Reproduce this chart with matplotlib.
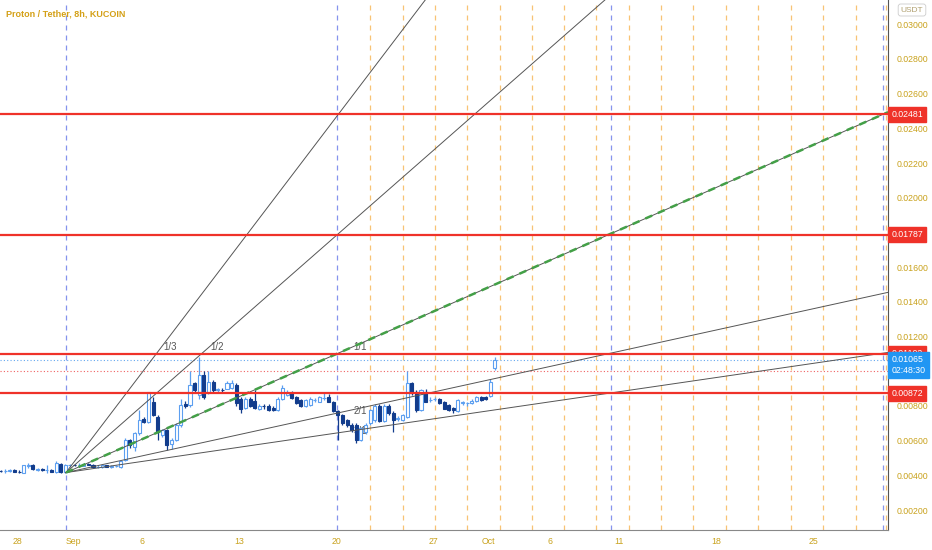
import numpy as np
import matplotlib.pyplot as plt

# 8h candles of PRT/USDT (KuCoin), oldest first
opens = [0.00425, 0.00424, 0.00426, 0.00430, 0.00420, 0.00414, 0.00456, 0.00462, 0.00432, 0.00436,
         0.00428, 0.00432, 0.00420, 0.00466, 0.00418, 0.00458, 0.00460, 0.00458, 0.00455, 0.00466,
         0.00462, 0.00448, 0.00448, 0.00458, 0.00450, 0.00452, 0.00448, 0.00489, 0.00604, 0.00564,
         0.00644, 0.00725, 0.00708, 0.00823, 0.00737, 0.00635, 0.00661, 0.00580, 0.00604, 0.00690,
         0.00810, 0.00806, 0.00932, 0.00863, 0.00978, 0.00875, 0.00940, 0.00892, 0.00893, 0.00898,
         0.00905, 0.00921, 0.00840, 0.00790, 0.00840, 0.00830, 0.00785, 0.00800, 0.00800, 0.00790,
         0.00777, 0.00840, 0.00865, 0.00875, 0.00852, 0.00834, 0.00800, 0.00806, 0.00834, 0.00825,
         0.00845, 0.00852, 0.00825, 0.00770, 0.00748, 0.00719, 0.00690, 0.00690, 0.00604, 0.00650,
         0.00702, 0.00719, 0.00800, 0.00713, 0.00800, 0.00760, 0.00725, 0.00719, 0.00737, 0.00930,
         0.00880, 0.00777, 0.00880, 0.00834, 0.00838, 0.00840, 0.00825, 0.00806, 0.00788, 0.00770,
         0.00817, 0.00815, 0.00817, 0.00830, 0.00852, 0.00850, 0.00856, 0.01017]
highs = [0.00432, 0.00434, 0.00436, 0.00436, 0.00428, 0.00462, 0.00474, 0.00468, 0.00440, 0.00440,
         0.00460, 0.00436, 0.00480, 0.00472, 0.00468, 0.00468, 0.00464, 0.00470, 0.00470, 0.00470,
         0.00466, 0.00458, 0.00462, 0.00462, 0.00460, 0.00462, 0.00485, 0.00615, 0.00610, 0.00650,
         0.00777, 0.00735, 0.00883, 0.00850, 0.00745, 0.00670, 0.00665, 0.00615, 0.00700, 0.00840,
         0.00830, 0.01000, 0.00940, 0.01084, 0.01000, 0.01000, 0.00950, 0.00905, 0.00905, 0.00945,
         0.00950, 0.00935, 0.00850, 0.00850, 0.00850, 0.00890, 0.00810, 0.00810, 0.00810, 0.00800,
         0.00850, 0.00921, 0.00890, 0.00885, 0.00860, 0.00840, 0.00840, 0.00850, 0.00845, 0.00860,
         0.00880, 0.00870, 0.00830, 0.00775, 0.00755, 0.00725, 0.00700, 0.00700, 0.00680, 0.00700,
         0.00785, 0.00810, 0.00810, 0.00810, 0.00810, 0.00770, 0.00740, 0.00755, 0.01000, 0.00940,
         0.00890, 0.00900, 0.00895, 0.00850, 0.00850, 0.00845, 0.00830, 0.00812, 0.00795, 0.00840,
         0.00830, 0.00825, 0.00840, 0.00860, 0.00860, 0.00858, 0.00955, 0.01080]
lows = [0.00418, 0.00416, 0.00418, 0.00418, 0.00414, 0.00412, 0.00444, 0.00432, 0.00426, 0.00426,
        0.00412, 0.00418, 0.00414, 0.00412, 0.00414, 0.00450, 0.00455, 0.00450, 0.00452, 0.00460,
        0.00444, 0.00440, 0.00444, 0.00446, 0.00444, 0.00446, 0.00444, 0.00480, 0.00560, 0.00540,
        0.00635, 0.00700, 0.00700, 0.00740, 0.00604, 0.00620, 0.00546, 0.00550, 0.00600, 0.00680,
        0.00790, 0.00795, 0.00880, 0.00840, 0.00840, 0.00870, 0.00880, 0.00880, 0.00880, 0.00895,
        0.00900, 0.00800, 0.00760, 0.00785, 0.00795, 0.00780, 0.00778, 0.00785, 0.00770, 0.00770,
        0.00772, 0.00835, 0.00860, 0.00840, 0.00810, 0.00795, 0.00795, 0.00800, 0.00825, 0.00820,
        0.00835, 0.00820, 0.00765, 0.00604, 0.00690, 0.00680, 0.00650, 0.00587, 0.00600, 0.00640,
        0.00690, 0.00710, 0.00705, 0.00705, 0.00750, 0.00650, 0.00715, 0.00715, 0.00730, 0.00865,
        0.00765, 0.00770, 0.00820, 0.00825, 0.00830, 0.00812, 0.00780, 0.00770, 0.00760, 0.00765,
        0.00805, 0.00800, 0.00810, 0.00825, 0.00830, 0.00832, 0.00850, 0.01010]
closes = [0.00424, 0.00426, 0.00428, 0.00420, 0.00418, 0.00458, 0.00460, 0.00434, 0.00436, 0.00428,
          0.00430, 0.00420, 0.00470, 0.00420, 0.00460, 0.00460, 0.00458, 0.00462, 0.00466, 0.00462,
          0.00448, 0.00450, 0.00458, 0.00450, 0.00452, 0.00454, 0.00480, 0.00604, 0.00575, 0.00644,
          0.00719, 0.00710, 0.00880, 0.00748, 0.00650, 0.00660, 0.00575, 0.00604, 0.00690, 0.00806,
          0.00800, 0.00921, 0.00892, 0.00978, 0.00852, 0.00940, 0.00892, 0.00895, 0.00890, 0.00930,
          0.00935, 0.00817, 0.00785, 0.00840, 0.00800, 0.00790, 0.00800, 0.00798, 0.00778, 0.00777,
          0.00840, 0.00905, 0.00875, 0.00845, 0.00815, 0.00800, 0.00834, 0.00840, 0.00836, 0.00852,
          0.00848, 0.00825, 0.00770, 0.00748, 0.00702, 0.00690, 0.00661, 0.00604, 0.00673, 0.00690,
          0.00777, 0.00800, 0.00713, 0.00800, 0.00760, 0.00719, 0.00730, 0.00748, 0.00930, 0.00875,
          0.00777, 0.00892, 0.00825, 0.00836, 0.00840, 0.00817, 0.00785, 0.00777, 0.00777, 0.00834,
          0.00820, 0.00818, 0.00830, 0.00852, 0.00835, 0.00838, 0.00940, 0.01065]
last_bar_day = 34.44   # days after Aug 28, 00:00

# gann fan: origin and the 1/1 anchor
fan_origin = (3.49, 0.00416)
fan_anchor = (62.44, 0.02481)
fan_names = ['1/3', '1/2', '1/1', '2/1', '3/1']
fan_mult = [3, 2, 1, 0.5, 1 / 3]
fan_label_x = [11.0, 14.4, 24.7, 24.7, 24.7]
fan_label_y = [0.01140, 0.01140, 0.01140, 0.00771, 0.00656]

levels = [0.02481, 0.01787, 0.01102, 0.00872]
last_price = 0.01065
prev_close = 0.0100
countdown = '02:48:30'

cycle_days = [3.49, 23.04, 42.79, 62.44]
sub_days = [25.43, 27.79, 30.09, 32.45, 34.78, 37.09, 39.44, 41.75, 44.11,
            46.44, 48.75, 51.09, 53.44, 55.78, 58.11, 60.47, 62.63]

xtick_pos = [0, 4, 9, 16, 23, 30, 34, 38.4, 43.4, 50.4, 57.4]
xtick_lab = ['28', 'Sep', '6', '13', '20', '27', 'Oct', '6', '11', '18', '25']
# 0.018 and 0.010 are hidden behind the price labels
ytick_pos = [0.002, 0.004, 0.006, 0.008, 0.012, 0.014, 0.016,
             0.020, 0.022, 0.024, 0.026, 0.028, 0.030]

gold = '#c9a21d'
red = '#ef3229'
up_col = '#5c9ff0'
dn_col = '#123c8c'
fam = ['Liberation Sans', 'DejaVu Sans']

fig = plt.figure(figsize=(9.32, 5.5), dpi=100)
ax = fig.add_axes([0, 20 / 550, 888 / 932, 530 / 550])
ax.set_xlim(-1.27, 62.8)
ax.set_ylim(0.00085, 0.0314)

# time cycle lines
for d in sub_days:
    ax.axvline(d, color='#f7b551', lw=0.9, ls=(0, (4, 4)), alpha=0.8, zorder=1)
for d in cycle_days:
    ax.axvline(d, color='#7080ea', lw=0.9, ls=(0, (4, 4)), alpha=0.85, zorder=1)

# candles
o = np.array(opens); h = np.array(highs); l = np.array(lows); c = np.array(closes)
n = len(o)
t = last_bar_day - (n - 1 - np.arange(n)) / 3
up = c >= o
bot = np.minimum(o, c)
top = np.maximum(o, c)
hgt = np.maximum(top - bot, 0.00003)
edges = [up_col if u else dn_col for u in up]
faces = ['white' if u else dn_col for u in up]
ax.vlines(t, top, h, colors=edges, lw=0.9, zorder=3)
ax.vlines(t, l, bot, colors=edges, lw=0.9, zorder=3)
ax.bar(t, hgt, bottom=bot, width=0.22, color=faces, edgecolor=edges, linewidth=0.8, zorder=3)

# gann fan
slope = (fan_anchor[1] - fan_origin[1]) / (fan_anchor[0] - fan_origin[0])
x_end = 62.8
for name, m in zip(fan_names, fan_mult):
    ax.plot([fan_origin[0], x_end], [fan_origin[1], fan_origin[1] + m * slope * (x_end - fan_origin[0])],
            color='#555555', lw=0.7, zorder=4)
ax.plot([fan_origin[0], x_end], [fan_origin[1], fan_origin[1] + slope * (x_end - fan_origin[0])],
        color='#43a047', lw=1.8, ls=(0, (3, 2.5)), zorder=4)
for name, lx, ly in zip(fan_names, fan_label_x, fan_label_y):
    ax.text(lx, ly, name, color='#555555', fontsize=7, family=fam, ha='center', va='center', zorder=2)

# horizontal levels
for v in levels:
    ax.axhline(v, color=red, lw=1.6, zorder=5)
ax.axhline(last_price, color='#64a8f0', lw=0.8, ls=(0, (1, 2)), zorder=2)
ax.axhline(prev_close, color='#f06060', lw=0.8, ls=(0, (1, 2)), zorder=2)

# axes styling
for s in ['top', 'left']:
    ax.spines[s].set_visible(False)
ax.spines['right'].set_color('#555555')
ax.spines['bottom'].set_color('#888888')
ax.yaxis.tick_right()
ax.set_yticks(ytick_pos)
ax.set_yticklabels(['%.5f' % v for v in ytick_pos])
ax.tick_params(axis='y', length=0, pad=6, labelcolor=gold, labelsize=6.3)
ax.set_xticks(xtick_pos)
ax.set_xticklabels(xtick_lab)
ax.tick_params(axis='x', length=0, pad=5, labelcolor=gold, labelsize=6.3)
for lab in ax.get_xticklabels() + ax.get_yticklabels():
    lab.set_family(fam)

# price labels on the scale
tr = ax.get_yaxis_transform()
for v in levels:
    ax.text(1.004, v, '%.5f' % v, transform=tr, color='white', fontsize=6.3, family=fam,
            va='center', ha='left', zorder=10, clip_on=False,
            bbox=dict(boxstyle='square,pad=0.35', fc=red, ec=red))
ax.text(1.004, last_price - 0.00028, '%.5f\n%s' % (last_price, countdown), transform=tr,
        color='white', fontsize=6.3, family=fam, va='center', ha='left', zorder=11,
        linespacing=1.35, clip_on=False, bbox=dict(boxstyle='square,pad=0.35', fc='#2196f3', ec='#2196f3'))

fig.text(912 / 932, 1 - 10 / 550, 'USDT', color='#b0a070', fontsize=6, family=fam,
         ha='center', va='center', bbox=dict(boxstyle='round,pad=0.3', fc='white', ec='#cccccc', lw=0.6))
fig.text(6 / 932, 1 - 14 / 550, 'Proton / Tether, 8h, KUCOIN', color='#d4a017', fontsize=6.5,
         fontweight='bold', family=fam, ha='left', va='center')

fig.savefig('out.png', dpi=100)
